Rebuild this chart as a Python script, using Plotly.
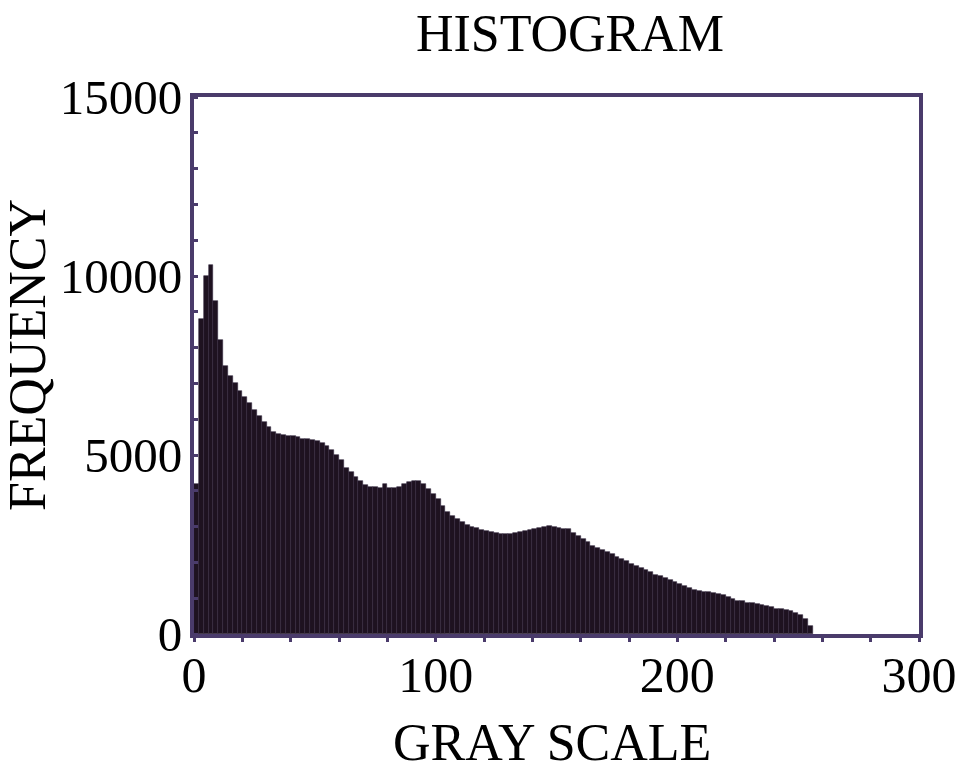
import plotly.graph_objects as go

# Histogram counts for gray levels in bins of width 2 (0-2, 2-4, ..., 254-256)
bin_width = 2
frequency = [
    4200, 8800, 10000, 10300, 9300, 8200, 7500, 7200, 7000, 6800,
    6620, 6450, 6270, 6100, 5930, 5780, 5640, 5600, 5560, 5530,
    5520, 5500, 5460, 5440, 5420, 5390, 5340, 5260, 5150, 5000,
    4850, 4650, 4520, 4380, 4270, 4170, 4120, 4100, 4090, 4180,
    4080, 4080, 4100, 4180, 4240, 4270, 4270, 4180, 4050, 3900,
    3770, 3580, 3420, 3300, 3220, 3130, 3050, 2990, 2950, 2910,
    2880, 2860, 2820, 2790, 2790, 2800, 2830, 2850, 2870, 2900,
    2930, 2960, 2990, 3010, 3000, 2960, 2930, 2920, 2830, 2740,
    2660, 2560, 2470, 2400, 2340, 2290, 2230, 2160, 2100, 2030,
    1960, 1890, 1850, 1780, 1720, 1650, 1610, 1560, 1500, 1440,
    1400, 1340, 1290, 1240, 1200, 1180, 1160, 1140, 1120, 1080,
    1030, 980, 930, 910, 880, 860, 840, 820, 790, 750,
    710, 690, 660, 630, 590, 520, 420, 230,
]
gray_level = [i * bin_width + bin_width / 2 for i in range(len(frequency))]

x_ticks = [0, 100, 200, 300]
x_tick_labels = ["0", "100", "200", "300"]
y_ticks = [0, 5000, 10000, 15000]
y_tick_labels = ["0", "5000", "10000", "15000"]

title_text = "HISTOGRAM"
x_title = "GRAY SCALE"
y_title = "FREQUENCY"

FONT = "Liberation Serif, Times New Roman, serif"
FRAME = "#4a3b6b"

W, H = 962, 770
ML, MR, MT, MB = 194, 43, 97, 136
PW, PH = W - ML - MR, H - MT - MB

fig = go.Figure(
    go.Bar(
        x=gray_level,
        y=frequency,
        width=bin_width,
        marker=dict(color="#1e1220", line=dict(color="#34283f", width=0.6)),
    )
)

fig.update_layout(
    width=W,
    height=H,
    paper_bgcolor="white",
    plot_bgcolor="white",
    margin=dict(l=ML, r=MR, t=MT, b=MB, autoexpand=False),
    bargap=0,
    showlegend=False,
    title=dict(
        text=title_text,
        font=dict(family=FONT, size=52, color="black"),
        x=570 / W, xref="container", xanchor="center",
        y=1 - 33 / H, yref="container", yanchor="middle",
    ),
    annotations=[
        dict(text=x_title, xref="paper", yref="paper",
             x=(552 - ML) / PW, y=(H - MB - 742) / PH,
             xanchor="center", yanchor="middle", showarrow=False,
             font=dict(family=FONT, size=52, color="black")),
        dict(text=y_title, xref="paper", yref="paper",
             x=(27 - ML) / PW, y=(H - MB - 355) / PH,
             xanchor="center", yanchor="middle", showarrow=False, textangle=-90,
             font=dict(family=FONT, size=52, color="black")),
    ],
)

fig.update_xaxes(
    range=[0, 300],
    tickvals=x_ticks,
    ticktext=x_tick_labels,
    ticks="",
    automargin=False,
    showgrid=False,
    zeroline=False,
    showline=True,
    linewidth=4,
    linecolor=FRAME,
    mirror=True,
    ticklabelstandoff=-6,
    tickfont=dict(family=FONT, size=50, color="black"),
    minor=dict(dtick=20, ticks="outside", ticklen=4, tickwidth=3, tickcolor=FRAME, showgrid=False),
)
fig.update_yaxes(
    range=[0, 15000],
    tickvals=y_ticks,
    ticktext=y_tick_labels,
    ticks="",
    automargin=False,
    showgrid=False,
    zeroline=False,
    showline=True,
    linewidth=4,
    linecolor=FRAME,
    mirror=True,
    ticklabelstandoff=-2,
    tickfont=dict(family=FONT, size=49, color="black"),
    minor=dict(dtick=1000, ticks="inside", ticklen=4, tickwidth=3, tickcolor=FRAME, showgrid=False),
)

fig.write_html(
    "out.html",
    config={"displayModeBar": False},
    post_script="document.body.style.margin='0';",
)
